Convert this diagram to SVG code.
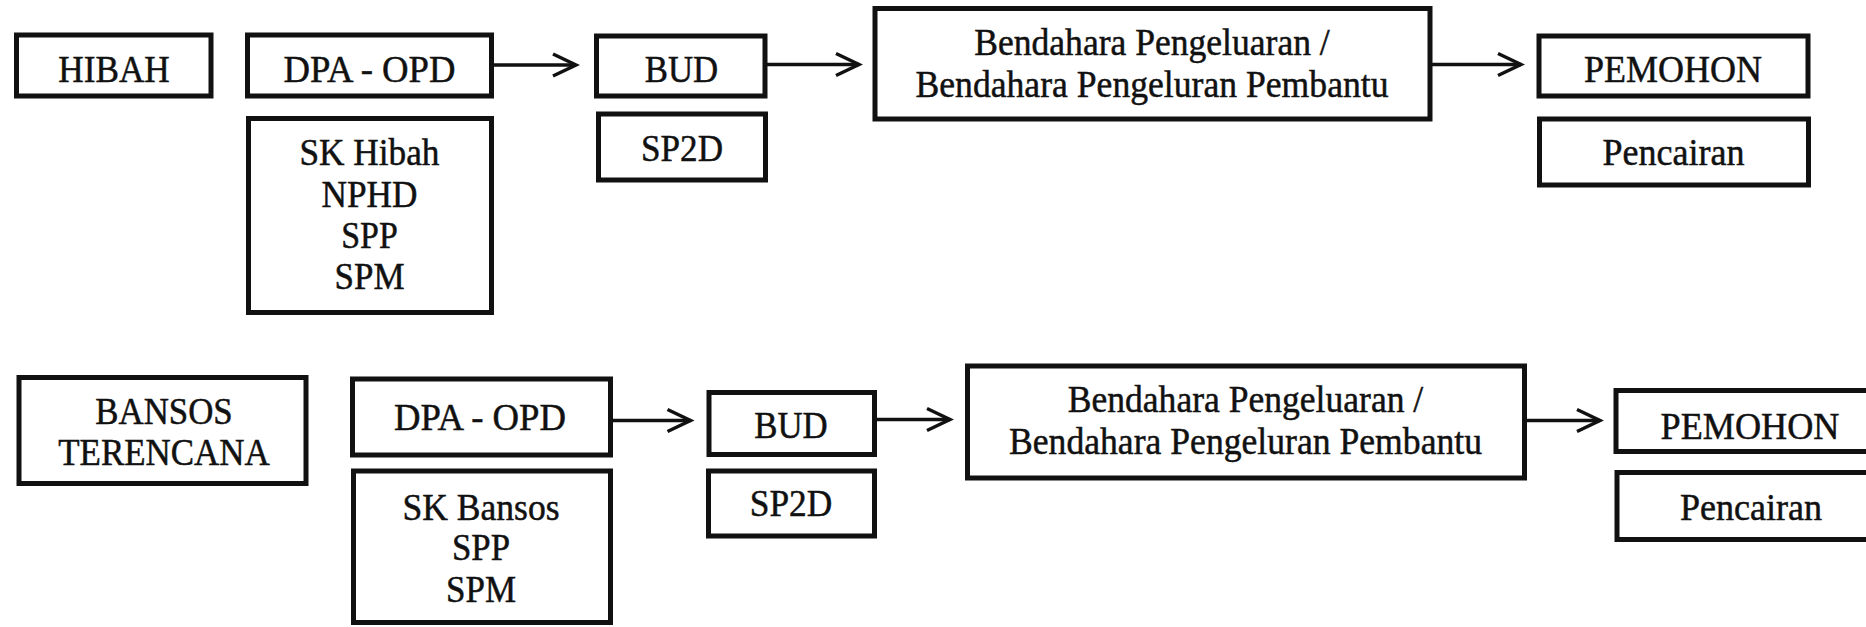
<svg xmlns="http://www.w3.org/2000/svg" width="1866" height="627" viewBox="0 0 1866 627">
  <style>
    .box { fill: #ffffff; stroke: #111111; stroke-width: 5; }
    .lbl { font-family: "Liberation Serif", "Times New Roman", serif; font-size: 38px; fill: #111111; stroke: #111111; stroke-width: 0.5; text-anchor: middle; }
    .flow { stroke: #111111; stroke-width: 3.5; fill: none; }
  </style>
  <defs>
    <marker id="chevron" viewBox="-28 -15 32 30" markerWidth="32" markerHeight="30" refX="0" refY="0" orient="auto" markerUnits="userSpaceOnUse">
      <path d="M-23,-11 L0,0 L-23,11" fill="none" stroke="#111111" stroke-width="3.5" stroke-linejoin="miter"/>
    </marker>
  </defs>
  <rect width="1866" height="627" fill="#ffffff"/>

  <!-- Row 1: Hibah -->
  <g id="hibah">
    <rect class="box" x="16.5" y="35" width="194.5" height="61"/>
    <text class="lbl" x="114" y="81.5" textLength="111.5" lengthAdjust="spacingAndGlyphs">HIBAH</text>
  </g>
  <g id="dpa-opd-1">
    <rect class="box" x="247.5" y="35" width="244" height="61"/>
    <text class="lbl" x="369.5" y="81.5" textLength="172" lengthAdjust="spacingAndGlyphs">DPA - OPD</text>
  </g>
  <g id="dokumen-hibah">
    <rect class="box" x="248.5" y="118.5" width="243" height="194"/>
    <text class="lbl" x="369.5" y="165" textLength="140" lengthAdjust="spacingAndGlyphs">SK Hibah</text>
    <text class="lbl" x="369.5" y="206.5" textLength="96" lengthAdjust="spacingAndGlyphs">NPHD</text>
    <text class="lbl" x="369.5" y="248" textLength="56.5" lengthAdjust="spacingAndGlyphs">SPP</text>
    <text class="lbl" x="369.5" y="288.5" textLength="70" lengthAdjust="spacingAndGlyphs">SPM</text>
  </g>
  <g id="bud-1">
    <rect class="box" x="596.5" y="36" width="168.5" height="60"/>
    <text class="lbl" x="681.5" y="81.5" textLength="73.5" lengthAdjust="spacingAndGlyphs">BUD</text>
  </g>
  <g id="sp2d-1">
    <rect class="box" x="598.5" y="114" width="167" height="66"/>
    <text class="lbl" x="682" y="160.5" textLength="82" lengthAdjust="spacingAndGlyphs">SP2D</text>
  </g>
  <g id="bendahara-1">
    <rect class="box" x="875" y="8.5" width="555" height="110.5"/>
    <text class="lbl" x="1152" y="54.5" textLength="355.5" lengthAdjust="spacingAndGlyphs">Bendahara Pengeluaran /</text>
    <text class="lbl" x="1152" y="96.5" textLength="473" lengthAdjust="spacingAndGlyphs">Bendahara Pengeluran Pembantu</text>
  </g>
  <g id="pemohon-1">
    <rect class="box" x="1539" y="36" width="269" height="60"/>
    <text class="lbl" x="1673" y="81.5" textLength="178" lengthAdjust="spacingAndGlyphs">PEMOHON</text>
  </g>
  <g id="pencairan-1">
    <rect class="box" x="1539.5" y="119" width="269" height="66"/>
    <text class="lbl" x="1673.5" y="165" textLength="142" lengthAdjust="spacingAndGlyphs">Pencairan</text>
  </g>

  <!-- Row 2: Bansos terencana -->
  <g id="bansos">
    <rect class="box" x="19" y="377.5" width="287" height="106"/>
    <text class="lbl" x="164" y="423.5" textLength="137.5" lengthAdjust="spacingAndGlyphs">BANSOS</text>
    <text class="lbl" x="164" y="465" textLength="211.5" lengthAdjust="spacingAndGlyphs">TERENCANA</text>
  </g>
  <g id="dpa-opd-2">
    <rect class="box" x="352.5" y="379" width="258" height="76"/>
    <text class="lbl" x="480" y="430" textLength="172" lengthAdjust="spacingAndGlyphs">DPA - OPD</text>
  </g>
  <g id="dokumen-bansos">
    <rect class="box" x="353.5" y="471" width="257" height="151.5"/>
    <text class="lbl" x="481" y="519.5" textLength="157" lengthAdjust="spacingAndGlyphs">SK Bansos</text>
    <text class="lbl" x="481" y="560" textLength="58" lengthAdjust="spacingAndGlyphs">SPP</text>
    <text class="lbl" x="481" y="601.5" textLength="70" lengthAdjust="spacingAndGlyphs">SPM</text>
  </g>
  <g id="bud-2">
    <rect class="box" x="709" y="392.5" width="165.5" height="62"/>
    <text class="lbl" x="791" y="437.5" textLength="73.5" lengthAdjust="spacingAndGlyphs">BUD</text>
  </g>
  <g id="sp2d-2">
    <rect class="box" x="708.5" y="471" width="166" height="65"/>
    <text class="lbl" x="791" y="515.5" textLength="82.5" lengthAdjust="spacingAndGlyphs">SP2D</text>
  </g>
  <g id="bendahara-2">
    <rect class="box" x="967.5" y="366" width="557" height="112"/>
    <text class="lbl" x="1245.5" y="411.5" textLength="355.5" lengthAdjust="spacingAndGlyphs">Bendahara Pengeluaran /</text>
    <text class="lbl" x="1245.5" y="453.5" textLength="473" lengthAdjust="spacingAndGlyphs">Bendahara Pengeluran Pembantu</text>
  </g>
  <g id="pemohon-2">
    <rect class="box" x="1616" y="390.5" width="260" height="61"/>
    <text class="lbl" x="1750" y="438.5" textLength="179" lengthAdjust="spacingAndGlyphs">PEMOHON</text>
  </g>
  <g id="pencairan-2">
    <rect class="box" x="1617" y="472.5" width="260" height="67"/>
    <text class="lbl" x="1751" y="520" textLength="142" lengthAdjust="spacingAndGlyphs">Pencairan</text>
  </g>

  <!-- Connectors -->
  <g id="connectors">
    <line class="flow" x1="494" y1="65" x2="576" y2="65" marker-end="url(#chevron)"/>
    <line class="flow" x1="767" y1="64.5" x2="859" y2="64.5" marker-end="url(#chevron)"/>
    <line class="flow" x1="1432" y1="64.5" x2="1521" y2="64.5" marker-end="url(#chevron)"/>
    <line class="flow" x1="612" y1="420.5" x2="690.5" y2="420.5" marker-end="url(#chevron)"/>
    <line class="flow" x1="877" y1="419.5" x2="950" y2="419.5" marker-end="url(#chevron)"/>
    <line class="flow" x1="1526" y1="420.5" x2="1600" y2="420.5" marker-end="url(#chevron)"/>
  </g>
</svg>
